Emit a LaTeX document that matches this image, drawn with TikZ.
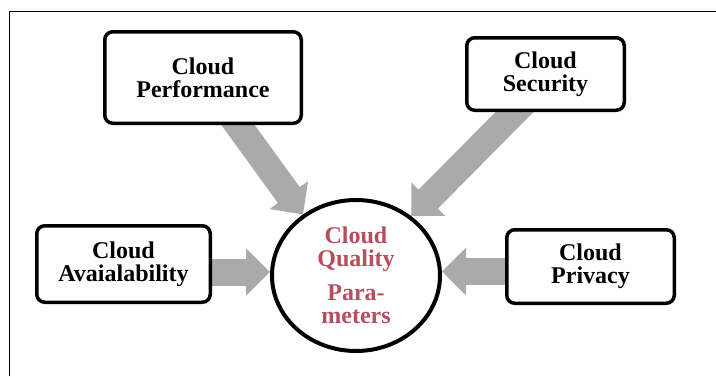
\documentclass[tikz,border=0pt]{standalone}
\usepackage{fontspec}
\setmainfont{Liberation Serif}
\usetikzlibrary{arrows.meta,shapes.geometric,calc}
\pgfdeclarelayer{background}
\pgfsetlayers{background,main}
\definecolor{arrowgray}{RGB}{170,170,170}
\definecolor{qred}{RGB}{182,78,94}
\tikzset{
  box/.style={draw=black, line width=3.5pt, rounded corners=8pt, fill=white,
    align=center, inner sep=0pt, font=\fontsize{24}{23}\selectfont\bfseries},
  qcircle/.style={draw=black, line width=4pt, ellipse, fill=white, inner sep=0pt,
    minimum width=168pt, minimum height=151pt, align=center, text=qred,
    font=\fontsize{24}{23}\selectfont\bfseries},
  blockarrow/.style={draw=arrowgray, line width=27pt,
    -{Triangle[length=24pt,width=46pt]}},
  frameline/.style={draw=black, line width=1pt}
}
\begin{document}
\begin{tikzpicture}[x=1pt,y=-1pt]
\useasboundingbox (0,0) rectangle (716,376);
\coordinate (ftl) at (9,11);
\coordinate (ftr) at (716,11);
\coordinate (fbl) at (9,376);
\draw[frameline] (fbl) -- (ftl) -- (ftr);

\node[box, minimum width=196.5pt, minimum height=91.5pt] (perf) at (203,77.5) {Cloud\\Performance};
\node[box, minimum width=157.5pt, minimum height=72.5pt] (sec) at (545.5,74) {Cloud\\Security};
\node[box, minimum width=173.5pt, minimum height=76.5pt] (avail) at (123.5,264) {Cloud\\Avaialability};
\node[box, minimum width=167.5pt, minimum height=73.5pt] (priv) at (590.5,266.5) {Cloud\\Privacy};
\node[qcircle] (q) at (356,275.5) {Cloud\\Quality\\[11pt]Para-\\meters};

\coordinate (ps) at ($(perf.south)+(35,0)$);
\coordinate (ss) at ($(sec.south)+(-31,0)$);
\coordinate (psi) at ($(q.131)!1.25!(ps)$);
\coordinate (ssi) at ($(q.47)!1.25!(ss)$);
\coordinate (lw) at ([yshift=3.5pt]q.west);
\coordinate (le) at ([yshift=4pt]q.east);

\begin{pgfonlayer}{background}
\draw[blockarrow] (psi) -- (q.131);
\draw[blockarrow] (ssi) -- (q.47);
\draw[blockarrow] (avail.center |- lw) -- (lw);
\draw[blockarrow] (priv.center |- le) -- (le);
\end{pgfonlayer}
\end{tikzpicture}
\end{document}
